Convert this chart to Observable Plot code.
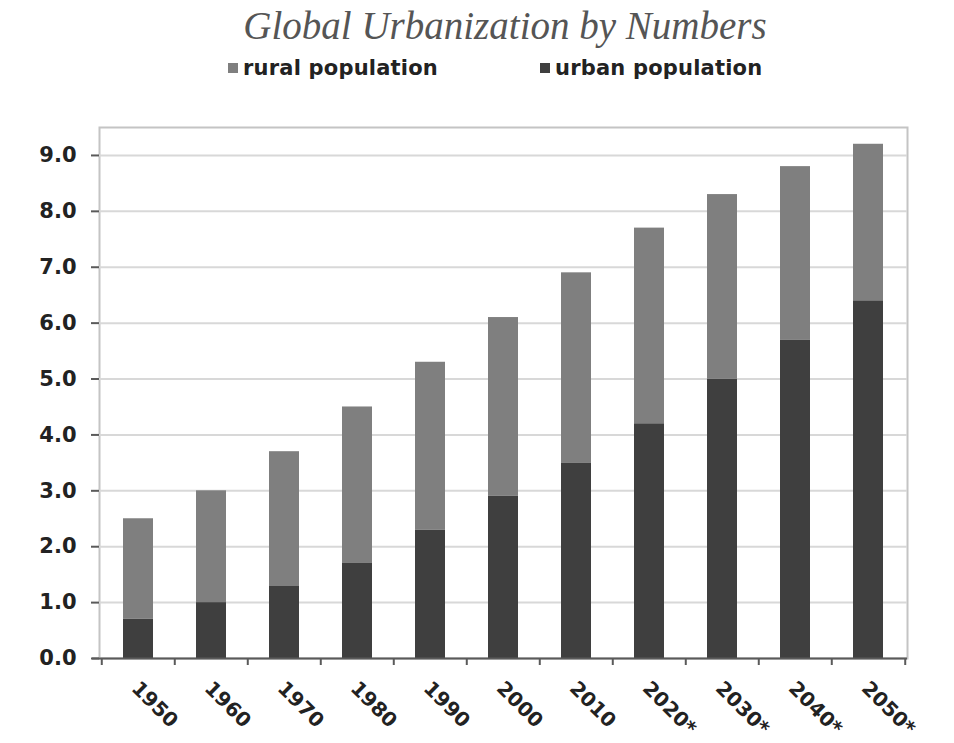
<!DOCTYPE html>
<html>
<head>
<meta charset="utf-8">
<script src="https://cdn.jsdelivr.net/npm/d3@7"></script>
<script src="https://cdn.jsdelivr.net/npm/@observablehq/plot@0.6"></script>
<style>
  body { margin: 0; background: #fff; }
  #wrap { position: relative; width: 954px; height: 743px; overflow: hidden; }
  #title { position: absolute; left: 0; top: 3px; width: 1010px; text-align: center;
           font: italic 39px "Liberation Serif", "DejaVu Serif", serif; color: #555; }
  .leg { position: absolute; top: 56px; font: bold 21px "DejaVu Sans", sans-serif; color: #222; white-space: nowrap; letter-spacing: 0.2px; }
  .leg span.sw { display: inline-block; width: 10px; height: 10px; margin-right: 5px; vertical-align: 2px; }
  #chart { position: absolute; left: 0; top: 100px; }
</style>
</head>
<body>
<div id="wrap">
  <div id="title">Global Urbanization by Numbers</div>
  <div class="leg" id="leg1" style="left:228px"><span class="sw" style="background:#7f7f7f"></span>rural population</div>
  <div class="leg" id="leg2" style="left:540px"><span class="sw" style="background:#3f3f3f"></span>urban population</div>
  <div id="chart"></div>
</div>
<script>
const years = ["1950","1960","1970","1980","1990","2000","2010","2020*","2030*","2040*","2050*"];
const urban = [0.7, 1.0, 1.3, 1.7, 2.3, 2.9, 3.5, 4.2, 5.0, 5.7, 6.4];
const rural = [1.8, 2.0, 2.4, 2.8, 3.0, 3.2, 3.4, 3.5, 3.3, 3.1, 2.8];
const seriesNames = ["urban population", "rural population"];
const seriesColors = ["#3f3f3f", "#7f7f7f"];
const yTicks = [0, 1, 2, 3, 4, 5, 6, 7, 8, 9];

const rows = [];
years.forEach((yr, i) => {
  rows.push({year: yr, series: seriesNames[0], value: urban[i]});
  rows.push({year: yr, series: seriesNames[1], value: rural[i]});
});

const W = 954, H = 643, mL = 99, mR = 47, mT = 27, mB = 85;
const step = (W - mL - mR) / years.length;

const chart = Plot.plot({
  width: W, height: H,
  marginLeft: mL, marginRight: mR, marginTop: mT, marginBottom: mB,
  style: {background: "#fff", overflow: "visible"},
  x: {domain: years, paddingInner: 0.59, paddingOuter: 0.295, axis: null},
  y: {domain: [0, 9.5], axis: null},
  color: {domain: seriesNames, range: seriesColors},
  marks: [
    Plot.frame({stroke: "#c4c4c4", strokeWidth: 2}),
    Plot.gridY(yTicks, {stroke: "#d8d8d8", strokeOpacity: 1, strokeWidth: 2}),
    Plot.barY(rows, Plot.stackY({x: "year", y: "value", fill: "series", order: seriesNames})),
    Plot.ruleX(years, {x: d => d, dx: -step / 2, y1: 0, y2: 0, insetBottom: -7, stroke: "#5a5a5a", strokeWidth: 2}),
    Plot.ruleX(years.slice(-1), {x: d => d, dx: step / 2, y1: 0, y2: 0, insetBottom: -7, stroke: "#5a5a5a", strokeWidth: 2}),
    Plot.axisY(yTicks, {anchor: "left", label: null, tickSize: 8, tickPadding: 15, tickFormat: d => d.toFixed(1),
      line: true, stroke: "#5a5a5a", strokeWidth: 2, color: "#5a5a5a",
      fontSize: 21, fontWeight: "bold", fontFamily: "DejaVu Sans", fill: "#222"}),
    Plot.ruleY([0], {stroke: "#5a5a5a", strokeWidth: 2, insetLeft: -7}),
    Plot.text(years, {x: d => d, frameAnchor: "bottom", dx: -8, dy: 31, rotate: 45, textAnchor: "start",
      fontSize: 20, fontWeight: "bold", fontFamily: "DejaVu Sans", fill: "#222"})
  ]
});
document.getElementById("chart").appendChild(chart);
</script>
</body>
</html>
